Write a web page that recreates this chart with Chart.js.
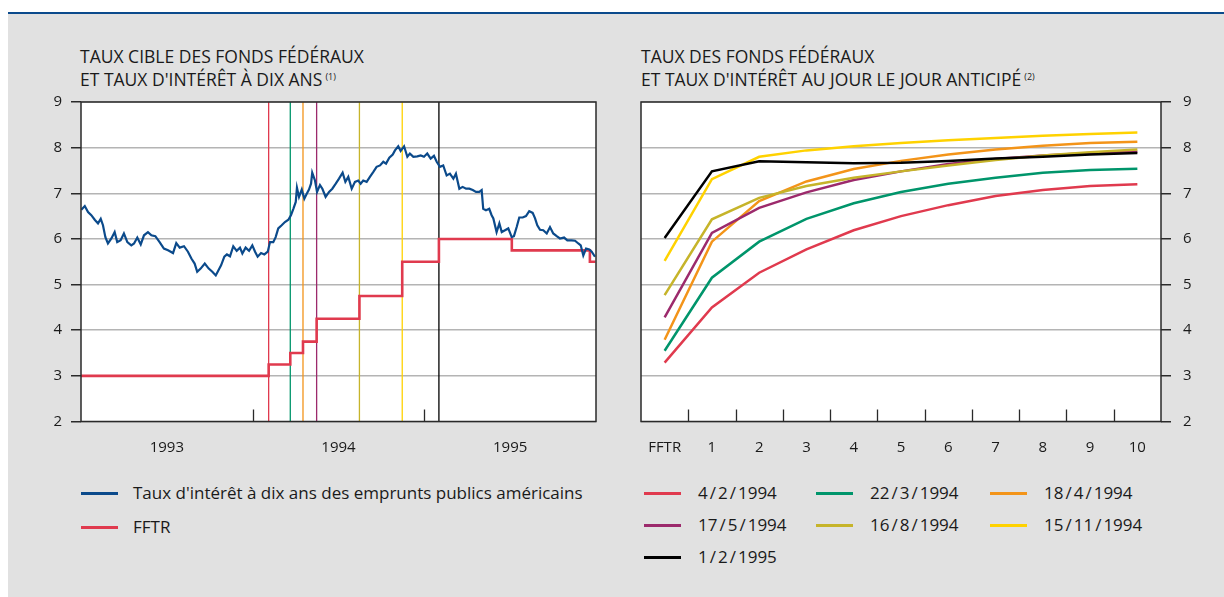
<!DOCTYPE html>
<html>
<head>
<meta charset="utf-8">
<script src="https://cdn.jsdelivr.net/npm/chart.js@4.4.0/dist/chart.umd.min.js"></script>
<style>
body{margin:0;width:1224px;height:597px;background:#fff;font-family:"Open Sans",sans-serif;color:#1a1a1a;overflow:hidden;position:relative}
#panel{position:absolute;left:8px;top:12px;right:0;bottom:0;background:#e1e1e1;border-top:2px solid #0b4a8c}
.title{position:absolute;font-size:17.5px;line-height:23px;white-space:nowrap}
.title sup{font-size:9px;vertical-align:6px;margin-left:3px;line-height:0}
.cv{position:absolute}
.leg{position:absolute;font-size:17px;white-space:nowrap}
.leg .it{position:absolute;height:22px;line-height:22px}
.leg .sw{position:absolute;top:10px;height:3px}
.leg .tx{position:absolute;top:0}
.leg .sl{padding:0 2px}
</style>
</head>
<body>
<div id="panel"></div>
<div class="title" style="left:80px;top:45px">TAUX CIBLE DES FONDS FÉDÉRAUX<br>ET TAUX D'INTÉRÊT À DIX ANS<sup>(1)</sup></div>
<div class="title" style="left:641px;top:45px">TAUX DES FONDS FÉDÉRAUX<br>ET TAUX D'INTÉRÊT AU JOUR LE JOUR ANTICIPÉ<sup>(2)</sup></div>

<div class="cv" style="left:40px;top:84px;width:570px;height:376px"><canvas id="left"></canvas></div>
<div class="cv" style="left:620px;top:81px;width:590px;height:379px"><canvas id="right"></canvas></div>

<div class="leg" id="legLeft" style="left:81px;top:482px"></div>
<div class="leg" id="legRight" style="left:644px;top:482px"></div>

<script>
// 10-year US treasury yield (decimal year, %)
const bondYears = [1993.002,1993.022,1993.041,1993.060,1993.080,1993.099,1993.115,1993.128,1993.142,1993.157,
  1993.177,1993.196,1993.211,1993.231,1993.250,1993.270,1993.293,1993.309,1993.328,1993.348,
  1993.367,1993.390,1993.410,1993.433,1993.458,1993.483,1993.507,1993.536,1993.555,1993.575,
  1993.600,1993.623,1993.643,1993.662,1993.677,1993.697,1993.721,1993.744,1993.765,1993.785,
  1993.800,1993.816,1993.835,1993.850,1993.868,1993.887,1993.907,1993.926,1993.940,1993.959,
  1993.979,1993.998,1994.014,1994.029,1994.049,1994.068,1994.088,1994.101,1994.120,1994.134,
  1994.149,1994.169,1994.188,1994.208,1994.223,1994.237,1994.251,1994.258,1994.270,1994.286,
  1994.301,1994.315,1994.328,1994.340,1994.347,1994.363,1994.375,1994.392,1994.406,1994.425,
  1994.445,1994.464,1994.484,1994.503,1994.524,1994.540,1994.557,1994.577,1994.596,1994.615,
  1994.629,1994.644,1994.664,1994.683,1994.703,1994.722,1994.742,1994.761,1994.777,1994.796,
  1994.816,1994.829,1994.848,1994.862,1994.882,1994.901,1994.916,1994.936,1994.959,1994.979,
  1994.998,1995.017,1995.037,1995.056,1995.072,1995.091,1995.110,1995.130,1995.149,1995.169,
  1995.184,1995.204,1995.223,1995.243,1995.262,1995.282,1995.301,1995.320,1995.334,1995.343,
  1995.359,1995.378,1995.392,1995.402,1995.421,1995.437,1995.451,1995.470,1995.489,1995.509,
  1995.522,1995.538,1995.553,1995.573,1995.592,1995.611,1995.631,1995.645,1995.658,1995.674,
  1995.693,1995.713,1995.732,1995.751,1995.771,1995.790,1995.814,1995.833,1995.858,1995.878,
  1995.897,1995.911,1995.926,1995.942,1995.961,1995.975,1995.994];
const bondYields = [6.64,6.72,6.59,6.52,6.42,6.34,6.44,6.30,6.04,5.90,
  6.01,6.15,5.93,5.97,6.12,5.93,5.86,5.90,6.03,5.88,
  6.08,6.15,6.08,6.06,5.93,5.79,5.75,5.69,5.91,5.81,
  5.84,5.72,5.57,5.46,5.28,5.35,5.46,5.35,5.28,5.20,
  5.31,5.42,5.61,5.66,5.62,5.84,5.74,5.81,5.68,5.81,
  5.74,5.86,5.72,5.61,5.69,5.66,5.72,5.93,5.93,6.04,
  6.23,6.30,6.37,6.42,6.52,6.66,6.81,7.12,6.92,7.08,
  6.88,6.99,7.08,7.21,7.45,7.28,7.03,7.18,7.10,6.92,
  7.03,7.10,7.21,7.32,7.45,7.25,7.36,7.10,7.25,7.28,
  7.21,7.28,7.25,7.36,7.47,7.58,7.61,7.69,7.65,7.78,
  7.85,7.94,8.03,7.93,8.03,7.80,7.87,7.80,7.81,7.83,
  7.80,7.87,7.76,7.82,7.69,7.58,7.61,7.39,7.43,7.32,
  7.43,7.10,7.14,7.10,7.10,7.07,7.03,7.03,7.07,6.66,
  6.63,6.66,6.52,6.45,6.15,6.34,6.15,6.19,6.23,6.04,
  6.06,6.26,6.47,6.47,6.50,6.61,6.57,6.45,6.30,6.20,
  6.19,6.12,6.26,6.12,6.06,6.01,6.03,5.97,5.97,5.96,
  5.90,5.86,5.64,5.79,5.77,5.72,5.61];

// federal funds target rate: change dates and new levels
const fftrDates = ['1/1/1993','4/2/1994','22/3/1994','18/4/1994','17/5/1994','16/8/1994','15/11/1994','1/2/1995','6/7/1995','19/12/1995','31/12/1995'];
const fftrRates = [3.00,3.25,3.50,3.75,4.25,4.75,5.50,6.00,5.75,5.50,5.50];

// expected overnight rate curves, one per meeting date
const curveLabels = ['FFTR','1','2','3','4','5','6','7','8','9','10'];
const curveDates = ['4/2/1994','22/3/1994','18/4/1994','17/5/1994','16/8/1994','15/11/1994','1/2/1995'];
const curve0402 = [3.29,4.50,5.26,5.77,6.19,6.50,6.74,6.94,7.07,7.16,7.20];
const curve2203 = [3.55,5.15,5.94,6.44,6.78,7.03,7.21,7.34,7.45,7.51,7.54];
const curve1804 = [3.79,5.94,6.83,7.26,7.53,7.71,7.85,7.96,8.04,8.10,8.13];
const curve1705 = [4.28,6.13,6.68,7.02,7.29,7.48,7.64,7.75,7.83,7.88,7.91];
const curve1608 = [4.77,6.43,6.90,7.16,7.34,7.48,7.61,7.73,7.83,7.90,7.96];
const curve1511 = [5.52,7.31,7.80,7.94,8.03,8.10,8.16,8.21,8.26,8.30,8.33];
const curve0102 = [6.02,7.48,7.70,7.68,7.66,7.67,7.71,7.76,7.80,7.85,7.88];
const curves = [curve0402,curve2203,curve1804,curve1705,curve1608,curve1511,curve0102];
const curveColors = ['#e03a4e','#00956b','#f39419','#9c2a6c','#c6b42a','#ffd200','#000000'];

const yearTicks = [1993.5,1994.5,1995.5];
const yearBounds = [1994,1995];

const BLUE = '#0b4a8b';
const RED = '#e03a4e';
const GRID = '#b4b4b4';
const INK = '#1a1a1a';
const tickFont = {family:'"Open Sans", sans-serif', size:15};

// d/m/yyyy -> decimal year
function decYear(s) {
  const [d, m, y] = s.split('/').map(Number);
  const start = Date.UTC(y, 0, 1);
  return y + (Date.UTC(y, m - 1, d) - start) / (Date.UTC(y + 1, 0, 1) - start);
}

// white plot area, dark frame, short ticks rising from the bottom edge
const frame = {
  id: 'frame',
  beforeDraw(chart) {
    const a = chart.chartArea, c = chart.ctx;
    c.save();
    c.fillStyle = '#fff';
    c.fillRect(a.left, a.top, a.right - a.left, a.bottom - a.top);
    c.restore();
  },
  afterDraw(chart, args, opts) {
    const a = chart.chartArea, c = chart.ctx, xs = chart.scales.x;
    c.save();
    c.strokeStyle = '#2a2a2a';
    c.lineWidth = 1.5;
    c.strokeRect(a.left, a.top, a.right - a.left, a.bottom - a.top);
    c.lineWidth = 1.3;
    c.beginPath();
    (opts.marks || []).forEach(v => {
      const px = Math.round(xs.getPixelForValue(v)) + 0.5;
      c.moveTo(px, a.bottom);
      c.lineTo(px, a.bottom - 12);
    });
    c.stroke();
    c.restore();
  }
};

Chart.defaults.font.family = '"Open Sans", sans-serif';
Chart.defaults.color = INK;

// left: target rate, 10-year yield, meeting markers
const leftSets = [
  {data: bondYears.map((x, i) => ({x, y: bondYields[i]})), borderColor: BLUE, borderWidth: 2.2},
  {data: fftrDates.map((d, i) => ({x: decYear(d), y: fftrRates[i]})), borderColor: RED, borderWidth: 2.6, stepped: 'before'}
];
curveDates.forEach((d, i) => {
  const x = decYear(d);
  leftSets.push({data: [{x, y: 2}, {x, y: 9}], borderColor: curveColors[i], borderWidth: 1.3});
});

new Chart(document.getElementById('left'), {
  type: 'line',
  data: {datasets: leftSets},
  options: {
    responsive: true, maintainAspectRatio: false, animation: false,
    layout: {padding: {top: 0, right: 14, left: 0, bottom: 0}},
    elements: {point: {radius: 0}, line: {tension: 0}},
    plugins: {legend: {display: false}, tooltip: {enabled: false}, frame: {marks: yearBounds}},
    scales: {
      x: {
        type: 'linear', min: 1993, max: 1996,
        afterBuildTicks: s => { s.ticks = yearTicks.map(v => ({value: v})); },
        ticks: {font: tickFont, padding: 9, callback: v => String(Math.floor(v)), maxRotation: 0},
        grid: {display: false}, border: {display: false},
        afterFit: s => { s.height = 38.5; }
      },
      y: {
        min: 2, max: 9,
        ticks: {stepSize: 1, font: tickFont, padding: 9},
        grid: {color: GRID, lineWidth: 1.5, tickColor: '#2a2a2a', tickLength: 10},
        border: {display: false},
        afterFit: s => { s.width = 41; }
      }
    }
  },
  plugins: [frame]
});

// right: expected overnight rate paths
new Chart(document.getElementById('right'), {
  type: 'line',
  data: {
    labels: curveLabels,
    datasets: curves.map((c, i) => ({label: curveDates[i], data: c, borderColor: curveColors[i], borderWidth: 2.5})).reverse()
  },
  options: {
    responsive: true, maintainAspectRatio: false, animation: false,
    layout: {padding: {top: 0, left: 21, right: 0, bottom: 0}},
    elements: {point: {radius: 0}, line: {tension: 0}},
    plugins: {legend: {display: false}, tooltip: {enabled: false},
      frame: {marks: curveLabels.slice(1).map((l, i) => i + 0.5)}},
    scales: {
      x: {
        offset: true,
        ticks: {font: tickFont, padding: 9, maxRotation: 0},
        grid: {display: false}, border: {display: false},
        afterFit: s => { s.height = 38.5; }
      },
      y: {
        position: 'right', min: 2, max: 9,
        ticks: {stepSize: 1, font: tickFont, padding: 12},
        grid: {color: GRID, lineWidth: 1.5, tickColor: '#2a2a2a', tickLength: 10},
        border: {display: false},
        afterFit: s => { s.width = 49; }
      }
    }
  },
  plugins: [frame]
});

// html legends
function item(parent, left, top, color, html) {
  const it = document.createElement('div');
  it.className = 'it';
  it.style.left = left + 'px';
  it.style.top = top + 'px';
  it.innerHTML = '<div class="sw" style="left:0;width:37px;background:' + color + '"></div>' +
    '<div class="tx" style="left:' + (html.sw || 52) + 'px">' + html.text + '</div>';
  parent.appendChild(it);
}
const legLeft = document.getElementById('legLeft');
item(legLeft, 0, 0, BLUE, {text: "Taux d'intérêt à dix ans des emprunts publics américains"});
item(legLeft, 0, 34, RED, {text: 'FFTR'});

const legRight = document.getElementById('legRight');
const colX = [0, 172, 346], rowY = [0, 32, 64];
curveDates.forEach((d, i) => {
  const txt = d.split('/').join('<span class="sl">/</span>');
  item(legRight, colX[i % 3], rowY[Math.floor(i / 3)], curveColors[i], {text: txt, sw: 54});
});
</script>
</body>
</html>
